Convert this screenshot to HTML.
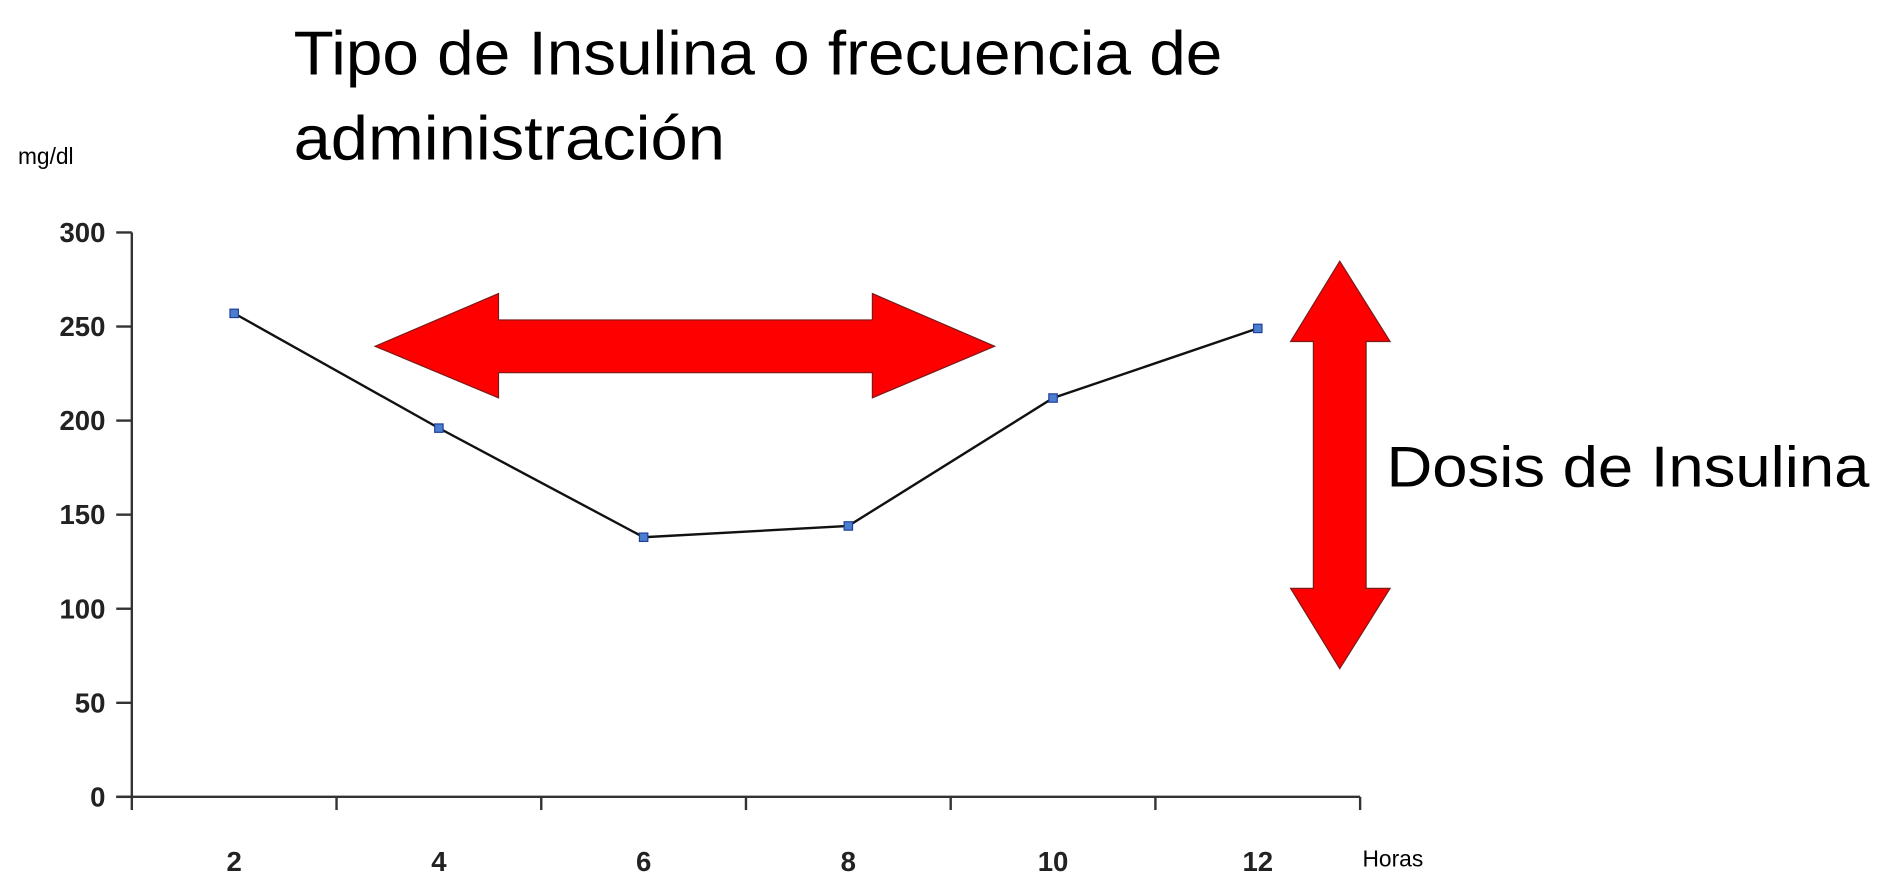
<!DOCTYPE html>
<html><head><meta charset="utf-8"><style>
html,body{margin:0;padding:0;background:#fff;}
svg{display:block;}
</style></head><body>
<svg id="chart" width="1879" height="892" viewBox="0 0 1568 744.4" preserveAspectRatio="none" xmlns="http://www.w3.org/2000/svg">
<text x="245" y="62" font-family="Liberation Sans, sans-serif" font-size="52" textLength="775" lengthAdjust="spacingAndGlyphs">Tipo de Insulina o frecuencia de</text>
<text x="245" y="133" font-family="Liberation Sans, sans-serif" font-size="52" textLength="360" lengthAdjust="spacingAndGlyphs">administración</text>
<text x="15" y="137" font-family="Liberation Sans, sans-serif" font-size="19">mg/dl</text>
<text x="1137" y="723" font-family="Liberation Sans, sans-serif" font-size="19">Horas</text>
<polygon points="313,289 416,245 416,267 728,267 728,245 830,289 728,332 728,311 416,311 416,332" fill="#ff0000" stroke="#7a1a1a" stroke-width="1"/>
<polygon points="1118,218 1160,285 1140,285 1140,491 1160,491 1118,558 1077,491 1096,491 1096,285 1077,285" fill="#ff0000" stroke="#7a1a1a" stroke-width="1"/>
<text x="1157" y="406" font-family="Liberation Sans, sans-serif" font-size="48" textLength="403" lengthAdjust="spacingAndGlyphs">Dosis de Insulina</text>
<g id="axes"></g>
<g id="series"></g>
</svg>
<script>
const categories = ["2","4","6","8","10","12"];
const glucoseValues = [257, 196, 138, 144, 212, 249];
const yTicks = [0, 50, 100, 150, 200, 250, 300];
const NS = "http://www.w3.org/2000/svg";
const x0 = 110, x1 = 1135, yTop = 194, yBot = 665, yMax = 300;
const bw = (x1 - x0) / categories.length;
function xPos(i){ return x0 + bw * (i + 0.5); }
function yPos(v){ return yBot - (v / yMax) * (yBot - yTop); }
function mk(tag, attrs, parent){ const e = document.createElementNS(NS, tag); for (const k in attrs) e.setAttribute(k, attrs[k]); parent.appendChild(e); return e; }
const axes = document.getElementById("axes");
const series = document.getElementById("series");
let el = mk("line", {x1:x0, y1:yTop, x2:x0, y2:yBot, stroke:"#333", "stroke-width":2}, axes);


el = mk("line", {x1:x0-13, y1:yBot, x2:x1, y2:yBot, stroke:"#333", "stroke-width":2}, axes);


yTicks.forEach(function(t){
  const y = yPos(t);
  let tk = mk("line", {x1:x0-13, y1:y, x2:x0, y2:y, stroke:"#333", "stroke-width":2}, axes);
  
  
  let lb = mk("text", {x:88, y:y+8, "text-anchor":"end", "font-family":"Liberation Sans, sans-serif", "font-weight":"bold", "font-size":23, fill:"#222"}, axes);
  lb.textContent = t;
  
  
});
for (let i = 0; i <= categories.length; i++) {
  const x = x0 + bw * i;
  let tk = mk("line", {x1:x, y1:yBot, x2:x, y2:yBot+11, stroke:"#333", "stroke-width":2}, axes);
  
  
}
categories.forEach(function(c, i){
  let lb = mk("text", {x:xPos(i), y:727, "text-anchor":"middle", "font-family":"Liberation Sans, sans-serif", "font-weight":"bold", "font-size":23, fill:"#222"}, axes);
  lb.textContent = c;
  
  
});
const pts = glucoseValues.map(function(v, i){ return xPos(i) + "," + yPos(v); }).join(" ");
let line = mk("polyline", {points:pts, fill:"none", stroke:"#111", "stroke-width":2}, series);


glucoseValues.forEach(function(v, i){
  let p = mk("rect", {x:xPos(i)-3.5, y:yPos(v)-3.5, width:7, height:7, fill:"#4a7fd0", stroke:"#1f3f99", "stroke-width":1}, series);
  
  
});
</script>
</body></html>
